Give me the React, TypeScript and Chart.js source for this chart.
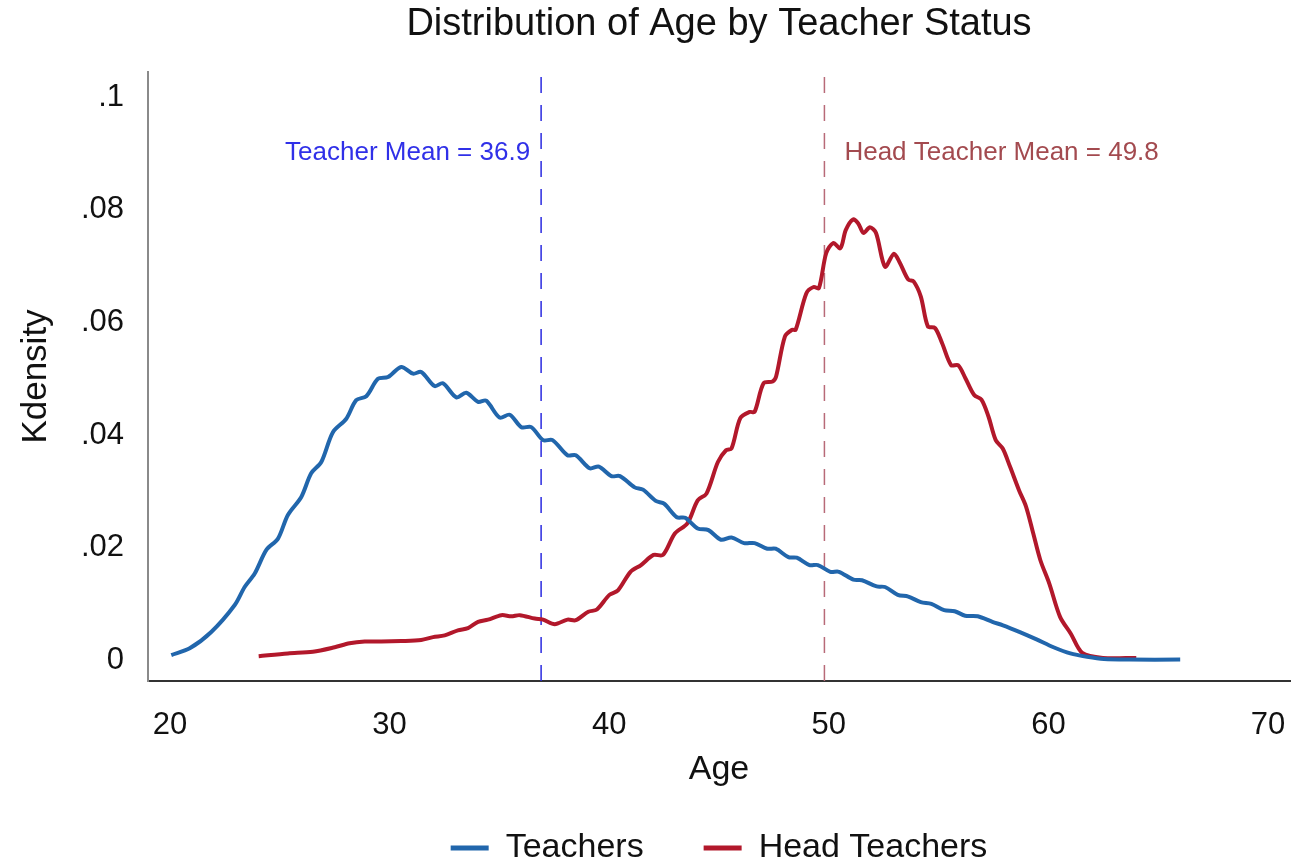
import React, { useEffect, useRef } from 'react';
import { Chart, registerables } from 'chart.js';

Chart.register(...registerables);

// ---- Data ----
const SERIES_NAMES = ['Teachers', 'Head Teachers'];

const TEACHER_AGE = [
  20.06, 20.9, 21.88, 22.95, 23.4, 23.86, 24.39, 24.92, 25.37, 25.98, 26.43, 26.89, 27.42, 28.03, 28.48,
  28.94, 29.47, 29.93, 30.53, 31.07, 31.44, 32.05, 32.43, 33.04, 33.49, 34.03, 34.4, 35.01, 35.47, 36.0,
  36.45, 36.99, 37.42, 38.1, 38.48, 39.11, 39.53, 40.1, 40.49, 41.16, 41.54, 42.12, 42.5, 43.08, 43.46,
  44.03, 44.52, 45.09, 45.57, 46.14, 46.62, 47.2, 47.58, 48.16, 48.54, 49.12, 49.5, 50.07, 50.46, 51.12,
  51.51, 52.18, 52.56, 53.14, 53.62, 54.19, 54.67, 55.25, 55.73, 56.21, 56.78, 57.45, 57.93, 58.7, 59.46,
  60.23, 61.0, 61.76, 62.53, 63.68, 66.0,
];
const TEACHER_DENSITY = [
  0.0009, 0.0021, 0.005, 0.0098, 0.013, 0.0154, 0.0196, 0.0216, 0.0258, 0.029, 0.0332, 0.0352, 0.0405, 0.0429, 0.0462,
  0.0469, 0.05, 0.0503, 0.0521, 0.0509, 0.0512, 0.0487, 0.0492, 0.0467, 0.0475, 0.0459, 0.0461, 0.0431, 0.0436, 0.0414,
  0.0414, 0.0391, 0.0391, 0.0364, 0.0364, 0.0341, 0.0344, 0.0327, 0.0327, 0.0307, 0.0303, 0.0283, 0.0278, 0.0254, 0.0253,
  0.0234, 0.0231, 0.0214, 0.0218, 0.0208, 0.0208, 0.0198, 0.0198, 0.0183, 0.0182, 0.0169, 0.0169, 0.0157, 0.0157, 0.0143,
  0.0142, 0.0131, 0.013, 0.0116, 0.0113, 0.0103, 0.01, 0.0089, 0.0087, 0.0079, 0.0078, 0.0068, 0.0062, 0.005, 0.0037,
  0.0023, 0.0012, 0.0006, 0.0002, 0.0001, 0.0001,
];

const HEAD_AGE = [
  24.04, 25.37, 26.51, 27.5, 28.18, 28.87, 29.62, 30.53, 31.44, 31.98, 32.51, 33.11, 33.57, 34.03, 34.48,
  35.09, 35.54, 35.93, 36.61, 36.99, 37.52, 38.1, 38.48, 39.05, 39.44, 40.01, 40.4, 40.97, 41.45, 42.02,
  42.45, 42.99, 43.56, 44.03, 44.43, 44.95, 45.32, 45.57, 45.97, 46.4, 46.62, 47.03, 47.44, 47.6, 48.0,
  48.33, 48.49, 48.98, 49.31, 49.55, 49.88, 50.2, 50.53, 50.77, 51.1, 51.34, 51.58, 51.87, 52.15, 52.56,
  52.96, 53.21, 53.62, 53.86, 54.19, 54.51, 54.84, 55.16, 55.57, 55.89, 56.22, 56.62, 56.95, 57.27, 57.6,
  57.92, 58.25, 58.66, 58.98, 59.31, 59.63, 60.04, 60.53, 61.02, 61.54, 62.48, 64.0,
];
const HEAD_DENSITY = [
  0.0007, 0.0012, 0.0015, 0.0023, 0.003, 0.0033, 0.0033, 0.0034, 0.0036, 0.0041, 0.0044, 0.0053, 0.0057, 0.0068, 0.0072,
  0.008, 0.0078, 0.008, 0.0074, 0.0072, 0.0064, 0.0072, 0.0071, 0.0086, 0.009, 0.0116, 0.0124, 0.0157, 0.0169, 0.0187,
  0.0187, 0.0225, 0.0243, 0.0284, 0.0296, 0.0352, 0.0373, 0.0376, 0.043, 0.0441, 0.0441, 0.0492, 0.0495, 0.0504, 0.0575,
  0.0587, 0.0587, 0.0652, 0.0663, 0.0661, 0.0723, 0.0741, 0.0732, 0.0764, 0.0783, 0.0776, 0.0759, 0.0769, 0.0759, 0.0699,
  0.0722, 0.0708, 0.0676, 0.0673, 0.0646, 0.0593, 0.059, 0.0563, 0.0524, 0.0524, 0.0501, 0.0471, 0.0463, 0.0433, 0.0391,
  0.0376, 0.0344, 0.0302, 0.0273, 0.0225, 0.0178, 0.0136, 0.0077, 0.0047, 0.0013, 0.0004, 0.0004,
];

const MEANS = [36.9, 49.8];
const MEAN_LABELS = ['Teacher Mean = 36.9', 'Head Teacher Mean = 49.8'];
const MEAN_LABEL_Y = 0.0889;

const X_TICKS = [20, 30, 40, 50, 60, 70];
const X_TICK_LABELS = ['20', '30', '40', '50', '60', '70'];
const Y_TICKS = [0, 0.02, 0.04, 0.06, 0.08, 0.1];
const Y_TICK_LABELS = ['0', '.02', '.04', '.06', '.08', '.1'];

const X_MIN = 19;
const X_MAX = 71;
const Y_MIN = -0.0037;
const Y_MAX = 0.1045;

// ---- Styles ----
const FONT = '"Liberation Sans", Arial, Helvetica, sans-serif';
const LINE_COLORS = ['#2166ac', '#b2182b'];
const MEAN_LINE_COLORS = ['#2b2be0', '#b86a78'];
const MEAN_TEXT_COLORS = ['#3030e8', '#a34a4f'];

const toPoints = (xs: number[], ys: number[]) => xs.map((x, i) => ({ x, y: ys[i] }));

export default function App() {
  const canvasRef = useRef<HTMLCanvasElement | null>(null);

  useEffect(() => {
    document.body.style.margin = '0';
    const canvas = canvasRef.current;
    if (!canvas) return;

    const meanLabelPlugin = {
      id: 'meanLabels',
      afterDatasetsDraw(chart: any) {
        const { ctx, scales } = chart;
        const xs = scales.x;
        const ys = scales.y;
        ctx.save();
        ctx.font = `26px ${FONT}`;
        ctx.textBaseline = 'alphabetic';
        const y = ys.getPixelForValue(MEAN_LABEL_Y);
        ctx.fillStyle = MEAN_TEXT_COLORS[0];
        ctx.textAlign = 'right';
        ctx.fillText(MEAN_LABELS[0], xs.getPixelForValue(MEANS[0]) - 11, y);
        ctx.fillStyle = MEAN_TEXT_COLORS[1];
        ctx.textAlign = 'left';
        ctx.fillText(MEAN_LABELS[1], xs.getPixelForValue(MEANS[1]) + 20, y);
        ctx.restore();
      },
    };

    const chart = new Chart(canvas, {
      type: 'line',
      data: {
        datasets: [
          {
            label: SERIES_NAMES[0],
            data: toPoints(TEACHER_AGE, TEACHER_DENSITY),
            borderColor: LINE_COLORS[0],
            backgroundColor: LINE_COLORS[0],
            borderWidth: 4,
            pointRadius: 0,
            tension: 0.3,
            fill: false,
          },
          {
            label: SERIES_NAMES[1],
            data: toPoints(HEAD_AGE, HEAD_DENSITY),
            borderColor: LINE_COLORS[1],
            backgroundColor: LINE_COLORS[1],
            borderWidth: 4,
            pointRadius: 0,
            tension: 0.3,
            fill: false,
          },
          ...MEANS.map((m, i) => ({
            label: MEAN_LABELS[i],
            data: [
              { x: m, y: Y_MIN },
              { x: m, y: Y_MAX },
            ],
            borderColor: MEAN_LINE_COLORS[i],
            borderWidth: 1.5,
            borderDash: [16, 12],
            pointRadius: 0,
            fill: false,
          })),
        ],
      },
      options: {
        animation: false,
        responsive: false,
        devicePixelRatio: 1,
        layout: { padding: { top: 0, left: 0, right: 24, bottom: -10 } },
        scales: {
          x: {
            type: 'linear',
            min: X_MIN,
            max: X_MAX,
            grid: { display: false, drawTicks: false, tickLength: 0 },
            border: { display: true, color: '#333333', width: 2 },
            afterBuildTicks: (s: any) => {
              s.ticks = X_TICKS.map((v) => ({ value: v }));
            },
            afterFit: (s: any) => {
              s.height = 90;
            },
            ticks: {
              padding: 26,
              maxRotation: 0,
              autoSkip: false,
              color: '#111',
              font: { family: FONT, size: 31 },
              callback: (_v: any, i: number) => X_TICK_LABELS[i],
            },
            title: {
              display: true,
              text: 'Age',
              color: '#111',
              font: { family: FONT, size: 34 },
              padding: { top: 0, bottom: -19 },
            },
          },
          y: {
            type: 'linear',
            min: Y_MIN,
            max: Y_MAX,
            grid: { display: false, drawTicks: false, tickLength: 0 },
            border: { display: true, color: '#8a8a8a', width: 2 },
            afterBuildTicks: (s: any) => {
              s.ticks = Y_TICKS.map((v) => ({ value: v }));
            },
            afterFit: (s: any) => {
              s.width = 148;
            },
            ticks: {
              padding: 24,
              autoSkip: false,
              color: '#111',
              font: { family: FONT, size: 31 },
              callback: (_v: any, i: number) => Y_TICK_LABELS[i],
            },
            title: {
              display: true,
              text: 'Kdensity',
              color: '#111',
              font: { family: FONT, size: 35 },
              padding: { top: 15, bottom: 0 },
            },
          },
        },
        plugins: {
          title: {
            display: true,
            text: 'Distribution of Age by Teacher Status',
            color: '#111',
            fullSize: false,
            font: { family: FONT, size: 38, weight: 'normal' },
            padding: { top: 1.4, bottom: 25 },
          },
          legend: {
            display: true,
            position: 'bottom',
            fullSize: false,
            labels: {
              color: '#111',
              font: { family: FONT, size: 34 },
              boxWidth: 38,
              boxHeight: 5,
              padding: 60,
              generateLabels: () =>
                SERIES_NAMES.map((name, i) => ({
                  text: name,
                  fillStyle: LINE_COLORS[i],
                  strokeStyle: LINE_COLORS[i],
                  lineWidth: 0,
                  hidden: false,
                  datasetIndex: i,
                  fontColor: '#111',
                })),
            },
          },
          tooltip: { enabled: false },
        },
      } as any,
      plugins: [meanLabelPlugin],
    });

    return () => {
      chart.destroy();
    };
  }, []);

  return (
    <div style={{ width: 1314, height: 865, background: '#fff' }}>
      <canvas ref={canvasRef} width={1314} height={865} style={{ display: 'block' }} />
    </div>
  );
}
